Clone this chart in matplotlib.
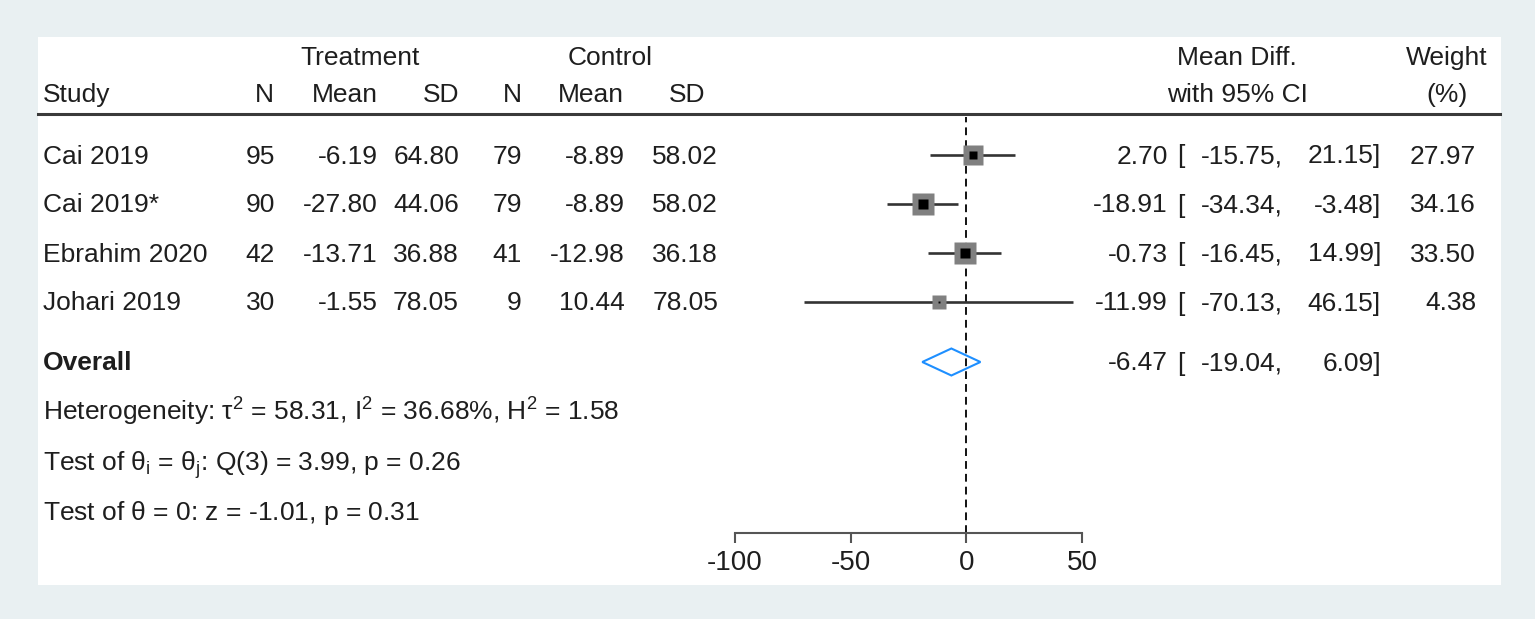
import matplotlib
matplotlib.use("Agg")
import matplotlib.pyplot as plt
from matplotlib.patches import Rectangle, Polygon
from matplotlib.lines import Line2D
import numpy as np

plt.rcParams['font.family'] = ['Liberation Sans', 'DejaVu Sans']
plt.rcParams['mathtext.fontset'] = 'custom'
plt.rcParams['mathtext.rm'] = 'Liberation Sans'
plt.rcParams['mathtext.it'] = 'Liberation Sans:italic'

# study data
studies = ["Cai 2019", "Cai 2019*", "Ebrahim 2020", "Johari 2019"]
t_n = [95, 90, 42, 30]
t_mean = [-6.19, -27.80, -13.71, -1.55]
t_sd = [64.80, 44.06, 36.88, 78.05]
c_n = [79, 79, 41, 9]
c_mean = [-8.89, -8.89, -12.98, 10.44]
c_sd = [58.02, 58.02, 36.18, 78.05]
md = [2.70, -18.91, -0.73, -11.99]
ci_lo = [-15.75, -34.34, -16.45, -70.13]
ci_hi = [21.15, -3.48, 14.99, 46.15]
weight = [27.97, 34.16, 33.50, 4.38]

overall_md = -6.47
overall_lo = -19.04
overall_hi = 6.09

stats_lines = [
    r"Heterogeneity: $\mathregular{\tau^2}$ = 58.31, $\mathregular{I^2}$ = 36.68%, $\mathregular{H^2}$ = 1.58",
    r"Test of $\mathregular{\theta_i}$ = $\mathregular{\theta_j}$: Q(3) = 3.99, p = 0.26",
    r"Test of $\mathregular{\theta}$ = 0: z = -1.01, p = 0.31",
]
xticks = [-100, -50, 0, 50]

W, H = 1535, 619
fig = plt.figure(figsize=(W / 100, H / 100), dpi=100)
fig.patch.set_facecolor('#e9f0f2')

# overlay axes in pixel coordinates for the table
bg = fig.add_axes([0, 0, 1, 1])
bg.set_xlim(0, W)
bg.set_ylim(H, 0)
bg.axis('off')
bg.add_patch(Rectangle((38, 37), 1463, 548, facecolor='white', edgecolor='none', zorder=0))
bg.add_line(Line2D([38, 1500], [113.5, 113.5], color='#3a3a3a', lw=2.2, zorder=1))

fs = 19
tc = '#1e1e1e'

def txt(x, y, s, ha='left', **kw):
    bg.text(x, y, s, ha=ha, va='baseline', fontsize=fs, color=tc, **kw)

# header
txt(360, 65, "Treatment", ha='center')
txt(610, 65, "Control", ha='center')
txt(1237, 65, "Mean Diff.", ha='center')
txt(1447, 65, "Weight", ha='center')
txt(43, 102, "Study")
txt(274, 102, "N", ha='right')
txt(378, 102, "Mean", ha='right')
txt(459, 102, "SD", ha='right')
txt(522, 102, "N", ha='right')
txt(624, 102, "Mean", ha='right')
txt(687, 102, "SD", ha='center')
txt(1237, 102, "with 95% CI", ha='center')
txt(1447, 102, "(%)", ha='center')

row_y = [155, 204, 253, 302]
for i, y in enumerate(row_y):
    b = y + 8.5
    txt(43, b, studies[i])
    txt(275, b, f"{t_n[i]}", ha='right')
    txt(378, b, f"{t_mean[i]:.2f}", ha='right')
    txt(459, b, f"{t_sd[i]:.2f}", ha='right')
    txt(522, b, f"{c_n[i]}", ha='right')
    txt(625, b, f"{c_mean[i]:.2f}", ha='right')
    txt(718, b, f"{c_sd[i]:.2f}", ha='right')
    txt(1168, b, f"{md[i]:.2f}", ha='right')
    txt(1177, b, "[")
    txt(1283, b, f"{ci_lo[i]:.2f},", ha='right')
    txt(1381, b, f"{ci_hi[i]:.2f}]", ha='right')
    txt(1476, b, f"{weight[i]:.2f}", ha='right')

oy = 362
txt(43, oy + 8.5, "Overall", fontweight='bold')
txt(1168, oy + 8.5, f"{overall_md:.2f}", ha='right')
txt(1177, oy + 8.5, "[")
txt(1283, oy + 8.5, f"{overall_lo:.2f},", ha='right')
txt(1381, oy + 8.5, f"{overall_hi:.2f}]", ha='right')

for s, b in zip(stats_lines, [421, 471, 520]):
    txt(43, b, s)

# forest plot axes
ax = fig.add_axes([735 / W, (H - 533) / H, (1082 - 735) / W, (533 - 113) / H])
ax.patch.set_alpha(0)
ax.set_xlim(-100, 50)
ax.set_ylim(533, 113)
for sp in ['top', 'right', 'left']:
    ax.spines[sp].set_visible(False)
ax.spines['bottom'].set_color('#555555')
ax.spines['bottom'].set_linewidth(1.5)
ax.set_yticks([])
ax.set_xticks(xticks)
ax.set_xticklabels([str(t) for t in xticks])
ax.tick_params(axis='x', length=7, width=1.5, color='#555555', labelsize=20,
               labelcolor=tc, pad=5)

ax.axvline(0, ymin=0, ymax=0.99, color='#111111', lw=1.4, ls=(0, (4, 2.6)), zorder=2)

px2pt = 72 / 100
for i, y in enumerate(row_y):
    ax.plot([ci_lo[i], ci_hi[i]], [y, y], color='#333333', lw=1.9, zorder=3, solid_capstyle='butt')
    sq = np.sqrt(weight[i])
    g = 9.5 + 2.13 * sq
    k = max(2.13 * sq - 2.5, 1.5)
    ax.plot(md[i], y, marker='s', ms=g * px2pt, mfc='#808080', mec='none', zorder=4)
    ax.plot(md[i], y, marker='s', ms=k * px2pt, mfc='black', mec='none', zorder=5)

dia = Polygon([[overall_lo, oy], [overall_md, oy - 13.5], [overall_hi, oy], [overall_md, oy + 13.5]],
              closed=True, fill=False, edgecolor='#1e8fff', lw=1.5, zorder=4)
ax.add_patch(dia)

fig.savefig("out.png", dpi=100, facecolor=fig.get_facecolor())
